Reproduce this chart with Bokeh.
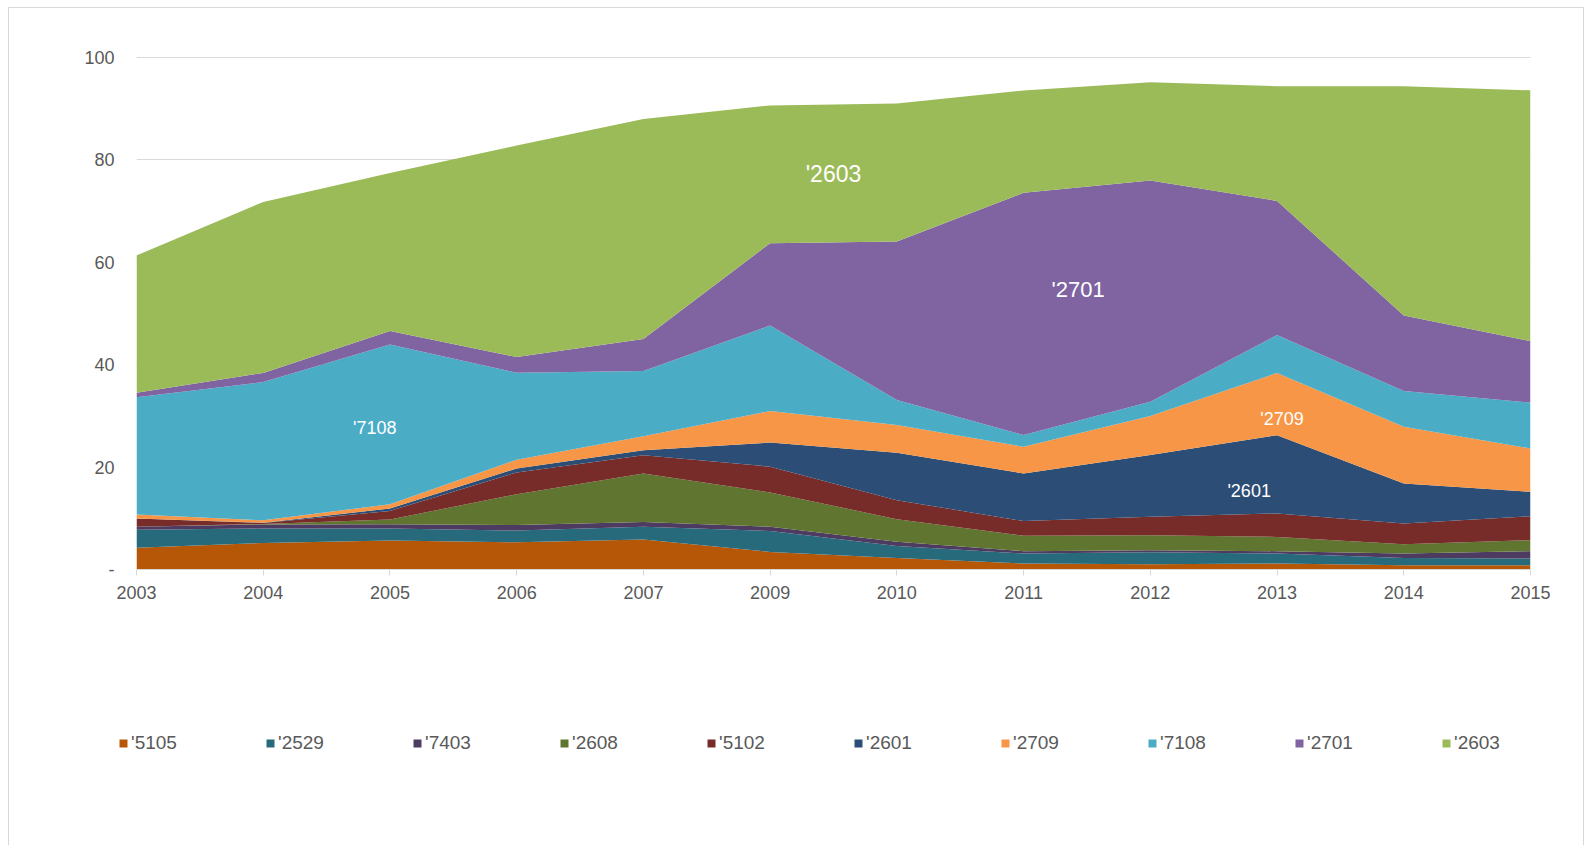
from bokeh.plotting import figure
from bokeh.models import Range1d, FixedTicker, Legend, LegendItem, ColumnDataSource
from bokeh.core.properties import value
from bokeh.embed import file_html
from bokeh.resources import INLINE

years = ["2003", "2004", "2005", "2006", "2007", "2009", "2010", "2011", "2012", "2013", "2014", "2015"]
series_names = ["'5105", "'2529", "'7403", "'2608", "'5102", "'2601", "'2709", "'7108", "'2701", "'2603"]

s5105 = [4.24, 5.2, 5.67, 5.3, 5.86, 3.44, 2.27, 1.17, 1.04, 1.17, 0.84, 0.84]
s2529 = [3.5, 2.8, 2.33, 2.3, 2.47, 4.1, 2.33, 1.96, 2.34, 1.96, 1.43, 1.31]
s7403 = [0.6, 0.8, 0.85, 1.1, 0.97, 0.8, 0.8, 0.45, 0.39, 0.45, 0.86, 1.43]
s2608 = [0.0, 0.1, 0.92, 6.0, 9.45, 6.7, 4.43, 3.0, 2.93, 2.79, 1.81, 2.15]
s5102 = [1.6, 0.2, 1.68, 4.25, 3.55, 5.05, 3.72, 2.87, 3.58, 4.57, 4.06, 4.69]
s2601 = [0.0, 0.05, 0.45, 0.8, 1.0, 4.7, 9.27, 9.32, 12.06, 15.3, 7.8, 4.75]
s2709 = [0.8, 0.45, 0.86, 1.7, 2.75, 6.15, 5.4, 5.2, 7.62, 12.15, 11.07, 8.48]
s7108 = [22.9, 27.0, 31.2, 17.0, 12.7, 16.7, 4.9, 2.3, 2.8, 7.4, 6.98, 8.95]
s2701 = [0.9, 1.8, 2.6, 3.05, 6.25, 16.1, 30.95, 47.3, 43.2, 26.2, 14.75, 12.0]
s2603 = [26.8, 33.4, 30.9, 41.3, 43.0, 26.9, 26.95, 20.0, 19.2, 22.4, 44.8, 49.0]

colors = ["#B65708", "#276A7C", "#4D3B62", "#5F7530", "#772C2A",
          "#2C4D75", "#F79646", "#4BACC6", "#8064A2", "#9BBB59"]

y_ticks = [0, 20, 40, 60, 80, 100]

# in-chart labels
labels_text = ["'2603", "'2701", "'7108", "'2709", "'2601"]
labels_x = [5.5, 7.43, 1.88, 9.04, 8.78]
labels_y = [77.2, 54.6, 27.6, 29.4, 15.3]
labels_size = ["23px", "22px", "18px", "18px", "18px"]

data = {"x": list(range(len(years)))}
all_series = [s5105, s2529, s7403, s2608, s5102, s2601, s2709, s7108, s2701, s2603]
for name, vals in zip(series_names, all_series):
    data[name] = vals
src = ColumnDataSource(data)

FONT = "Liberation Sans"
GREY = "#595959"
BORDER = "#d9d9d9"
grad = "linear-gradient(%s,%s)" % (BORDER, BORDER)

# ---------- main chart ----------
p = figure(width=1591, height=609, output_backend="svg", toolbar_location=None,
           x_range=Range1d(0, len(years) - 1), y_range=Range1d(0, 100.2),
           min_border_left=136, min_border_top=56, min_border_right=61, min_border_bottom=40)
p.styles = {
    "background": (grad + " left 8px top 7px / 1px calc(100% - 7px) no-repeat, "
                   + grad + " left 8px top 7px / 1575px 1px no-repeat, "
                   + grad + " left 1583px top 7px / 1px calc(100% - 7px) no-repeat, #ffffff"),
}
p.border_fill_alpha = 0
p.outline_line_color = None
p.background_fill_color = "white"

renderers = p.varea_stack(stackers=series_names, x="x", source=src, color=colors)

lsrc = ColumnDataSource(dict(x=labels_x, y=labels_y, t=labels_text, s=labels_size))
p.text(x="x", y="y", text="t", source=lsrc, text_color="white", text_align="center",
       text_baseline="middle", text_font=value(FONT), text_font_size="s")

p.xaxis.ticker = FixedTicker(ticks=list(range(len(years))))
p.xaxis.major_label_overrides = {i: y for i, y in enumerate(years)}
p.xaxis.axis_line_color = BORDER
p.xaxis.major_tick_line_color = BORDER
p.xaxis.major_tick_out = 6
p.xaxis.major_tick_in = 0
p.xaxis.minor_tick_line_color = None
p.xaxis.major_label_text_font = FONT
p.xaxis.major_label_text_font_size = "18px"
p.xaxis.major_label_text_color = GREY
p.xaxis.major_label_standoff = 10

p.yaxis.ticker = FixedTicker(ticks=y_ticks)
p.yaxis.major_label_overrides = {0: "-"}
p.yaxis.axis_line_color = None
p.yaxis.major_tick_line_color = None
p.yaxis.minor_tick_line_color = None
p.yaxis.major_tick_out = 0
p.yaxis.major_label_text_font = FONT
p.yaxis.major_label_text_font_size = "18px"
p.yaxis.major_label_text_color = GREY
p.yaxis.major_label_standoff = 22

p.xgrid.grid_line_color = None
p.ygrid.grid_line_color = BORDER
p.ygrid.grid_line_width = 1

# ---------- legend strip (separate root, no frame alignment) ----------
q = figure(width=1591, height=236, output_backend="svg", toolbar_location=None,
           x_range=Range1d(0, 1), y_range=Range1d(0, 1),
           x_axis_type=None, y_axis_type=None, min_border=0)
q.styles = {
    "background": (grad + " left 8px top 0px / 1px 100% no-repeat, "
                   + grad + " left 1583px top 0px / 1px 100% no-repeat, #ffffff"),
}
q.border_fill_alpha = 0
q.background_fill_alpha = 0
q.outline_line_color = None
q.xgrid.visible = False
q.ygrid.visible = False

items = []
for n, c in zip(series_names, colors):
    # proxy area placed outside the visible range: only its legend swatch is seen
    r = q.varea(x=[5, 6], y1=[5, 5], y2=[6, 6], color=c)
    items.append(LegendItem(label=n, renderers=[r]))
legend = Legend(items=items, orientation="horizontal", location=(118, 91),
                glyph_width=10, glyph_height=10, label_standoff=3, label_width=119, spacing=15,
                padding=0, margin=0, border_line_color=None, background_fill_alpha=0,
                label_text_font=FONT, label_text_font_size="19px",
                label_text_color=GREY)
q.add_layout(legend, "center")

open("out.html", "w").write(file_html([p, q], INLINE))
